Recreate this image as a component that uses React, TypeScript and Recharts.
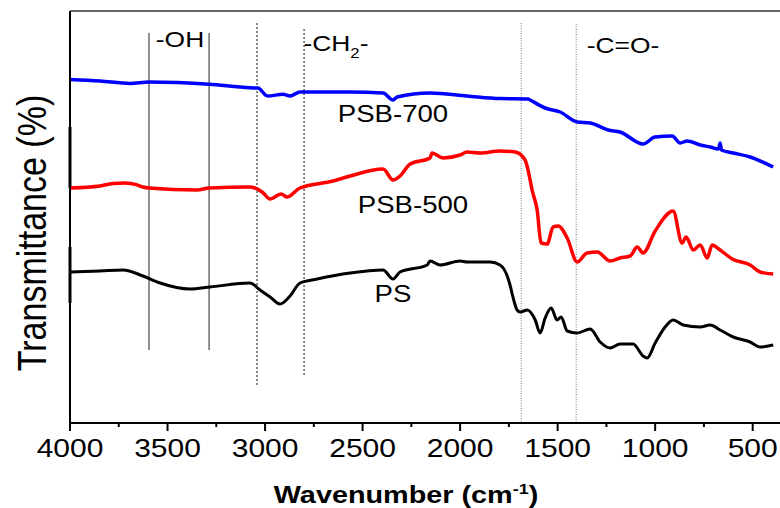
import React from "react";
import { LineChart, Line, XAxis, YAxis, ReferenceLine } from "recharts";

// ---- Data (wavenumber in cm-1, transmittance in arbitrary %) ----
const ps700Wn = [4000, 3846, 3692, 3595, 3287, 3077, 3036, 2995, 2985, 2908, 2872, 2821, 2733, 2564, 2395, 2344, 2323, 2154, 1964, 1795, 1651, 1641, 1564, 1487, 1400, 1333, 1241, 1180, 1062, 1000, 913, 872, 836, 769, 718, 675, 667, 660, 600, 513, 395];
const ps700T = [85.9, 85.5, 84.9, 85.25, 84.7, 83.8, 83.75, 81.9, 81.75, 82.2, 81.75, 82.75, 82.75, 82.75, 82.5, 80.75, 81.5, 82.5, 81.75, 81.1, 81, 80.75, 78.75, 77.75, 75.25, 75, 73.25, 72.75, 69.75, 71.5, 71.75, 70, 70.5, 69.5, 69, 68.5, 70, 68.25, 67.5, 66.5, 64];

const ps500Wn = [4000, 3846, 3780, 3718, 3660, 3626, 3595, 3349, 3287, 3077, 3015, 2974, 2918, 2887, 2821, 2651, 2564, 2395, 2344, 2308, 2256, 2154, 2144, 2087, 2000, 1964, 1897, 1795, 1718, 1667, 1641, 1631, 1605, 1585, 1554, 1523, 1497, 1451, 1400, 1349, 1297, 1231, 1180, 1128, 1092, 1062, 1000, 908, 862, 841, 805, 769, 733, 708, 667, 605, 513, 462, 395];
const ps500T = [58.75, 59.25, 59.9, 60, 59.6, 59, 58.75, 58.25, 58.75, 59, 57.75, 56, 57.25, 56.5, 58.75, 60.5, 61.75, 63.5, 60.75, 61.75, 64.75, 66.25, 67.5, 66.25, 67, 67.75, 67.5, 68, 67.75, 65.75, 60.75, 58.25, 53.25, 45, 44.75, 49, 49.25, 46.25, 40.25, 42.5, 42.75, 40.5, 41.25, 41.75, 44, 42.5, 48, 53, 45, 46.5, 43.25, 44.5, 41.25, 44.5, 43.25, 41, 39.5, 37.75, 37.25];

const psWn = [4000, 3846, 3728, 3626, 3538, 3385, 3282, 3077, 3026, 2974, 2923, 2872, 2821, 2733, 2564, 2395, 2344, 2308, 2169, 2154, 2103, 2000, 1964, 1846, 1795, 1744, 1733, 1708, 1692, 1656, 1615, 1590, 1564, 1533, 1503, 1482, 1451, 1400, 1333, 1282, 1231, 1180, 1113, 1062, 1041, 1000, 949, 908, 856, 769, 718, 667, 600, 513, 462, 395];
const psT = [37.75, 38, 38.25, 36.75, 35, 33.5, 34, 35, 33.25, 31.5, 29.75, 31.75, 35, 36, 37.5, 38.25, 36, 37.75, 39.5, 40.5, 39.5, 40.5, 40.25, 40.25, 39.5, 34.5, 32.25, 28.25, 27.75, 28.25, 25.75, 22.5, 26.25, 28.75, 25.75, 26.5, 23, 22.5, 23.5, 20.25, 18.75, 19.75, 19.75, 16.75, 16.25, 20, 24, 25.75, 24.5, 24, 24.5, 23.25, 21.5, 20.25, 19, 19.5];

const xTicks = [4000, 3750, 3500, 3250, 3000, 2750, 2500, 2250, 2000, 1750, 1500, 1250, 1000, 750, 500];

// annotation guide lines: [wavenumber, yTop, yBottom]
const ohLines = [[3595, 97.5, 18.25], [3287, 97.5, 18.25]];
const ch2Lines = [[3041, 100, 9], [2800, 98.5, 11.75]];
const coLines = [[1687, 100, 0], [1405, 99.75, 0]];
const edgeBars = [[4000, 74, 58.75], [4000, 44, 30]];

const toData = (wn: number[], t: number[]) => wn.map((w, i) => ({ wn: w, t: t[i] }));
const d700 = toData(ps700Wn, ps700T);
const d500 = toData(ps500Wn, ps500T);
const dPS = toData(psWn, psT);

const FONT = "'Liberation Sans', Arial, Helvetica, sans-serif";
const SX = 1.2;

const Tick = (props: any) => {
  const { x, y, payload } = props;
  const major = payload.value % 500 === 0;
  return (
    <g>
      <line x1={x} x2={x} y1={y} y2={y + (major ? 8 : 4)} stroke="#000" strokeWidth={2} />
      {major && (
        <text
          transform={`translate(${x},${y + 34}) scale(${SX},1)`}
          textAnchor="middle"
          fontSize={25}
          fontFamily={FONT}
          fill="#000"
        >
          {payload.value}
        </text>
      )}
    </g>
  );
};

const T = ({ x, y, size = 23, bold = false, children }: any) => (
  <text
    transform={`translate(${x},${y}) scale(${SX},1)`}
    textAnchor="middle"
    fontSize={size}
    fontWeight={bold ? "bold" : "normal"}
    fontFamily={FONT}
    fill="#000"
  >
    {children}
  </text>
);

export default function App() {
  return (
    <div style={{ position: "absolute", left: 0, top: 0, width: 780, height: 508, background: "#fff" }}>
      <LineChart width={780} height={508} margin={{ top: 11, right: 0, bottom: 0, left: 0 }}>
        <XAxis
          dataKey="wn"
          type="number"
          domain={[360, 4000]}
          reversed
          ticks={xTicks}
          interval={0}
          tick={<Tick />}
          tickLine={false}
          tickSize={0}
          tickMargin={0}
          height={85}
          axisLine={{ stroke: "#000", strokeWidth: 2 }}
          allowDataOverflow
        />
        <YAxis
          dataKey="t"
          type="number"
          domain={[0, 103]}
          width={70}
          tick={false}
          tickLine={false}
          axisLine={{ stroke: "#000", strokeWidth: 2 }}
          allowDataOverflow
        />
        <ReferenceLine y={103} stroke="#333" strokeWidth={1.5} />
        {ohLines.map((l, i) => (
          <ReferenceLine key={"oh" + i} segment={[{ x: l[0], y: l[1] }, { x: l[0], y: l[2] }]} stroke="#222" strokeWidth={1} />
        ))}
        {ch2Lines.map((l, i) => (
          <ReferenceLine key={"ch" + i} segment={[{ x: l[0], y: l[1] }, { x: l[0], y: l[2] }]} stroke="#111" strokeWidth={1} strokeDasharray="2 2" />
        ))}
        {coLines.map((l, i) => (
          <ReferenceLine key={"co" + i} segment={[{ x: l[0], y: l[1] }, { x: l[0], y: l[2] }]} stroke="#777" strokeWidth={1} strokeDasharray="1 1.5" />
        ))}
        {edgeBars.map((l, i) => (
          <ReferenceLine key={"eb" + i} segment={[{ x: l[0], y: l[1] }, { x: l[0], y: l[2] }]} stroke="#000" strokeWidth={3} />
        ))}
        <Line data={d700} dataKey="t" type="monotone" stroke="#0000ff" strokeWidth={3.5} dot={false} isAnimationActive={false} />
        <Line data={d500} dataKey="t" type="monotone" stroke="#ff0000" strokeWidth={3.5} dot={false} isAnimationActive={false} />
        <Line data={dPS} dataKey="t" type="monotone" stroke="#000000" strokeWidth={3} dot={false} isAnimationActive={false} />
      </LineChart>
      <svg width={780} height={508} style={{ position: "absolute", left: 0, top: 0, pointerEvents: "none" }}>
        <text
          transform={`translate(46,233) scale(${SX},1) rotate(-90)`}
          textAnchor="middle"
          fontSize={34}
          fontFamily={FONT}
          fill="#000"
        >
          Transmittance (%)
        </text>
        <T x={406} y={503} size={24} bold>
          Wavenumber (cm<tspan dy={-9} fontSize={15}>-1</tspan>
          <tspan dy={9}>)</tspan>
        </T>
        <T x={393} y={122}>PSB-700</T>
        <T x={413} y={213}>PSB-500</T>
        <T x={393} y={302}>PS</T>
        <T x={180} y={47} size={22}>-OH</T>
        <T x={336} y={51} size={22}>
          -CH<tspan dy={7} fontSize={14}>2</tspan>
          <tspan dy={-7}>-</tspan>
        </T>
        <T x={623} y={53} size={22}>-C=O-</T>
      </svg>
    </div>
  );
}
